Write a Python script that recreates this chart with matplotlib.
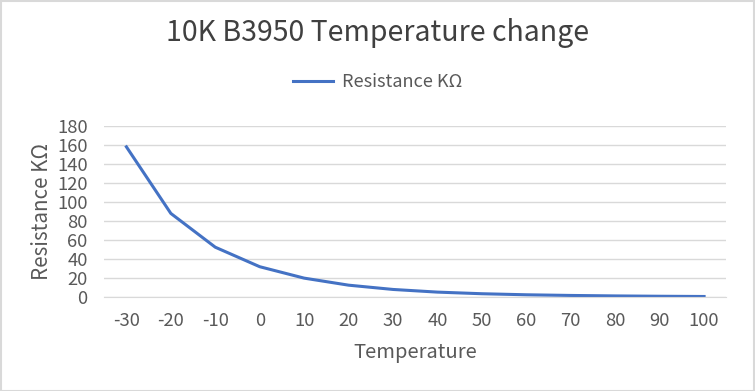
import matplotlib.pyplot as plt
import numpy as np

plt.rcParams['font.family'] = ['Noto Sans CJK SC', 'DejaVu Sans']

temps = ['-30', '-20', '-10', '0', '10', '20', '30', '40', '50', '60', '70', '80', '90', '100']
resistance = [158, 88, 52.5, 32, 20, 12.6, 8.1, 5.3, 3.6, 2.5, 1.8, 1.3, 0.95, 0.7]
y_ticks = [0, 20, 40, 60, 80, 100, 120, 140, 160, 180]

txt = '#595959'
fig = plt.figure(figsize=(7.55, 3.91), dpi=100)
fig.patches.append(plt.Rectangle((0.001, 0.001), 0.998, 0.997, transform=fig.transFigure,
                                 fill=False, edgecolor='#d9d9d9', linewidth=1.5))
ax = fig.add_axes([0.138, 0.240, 0.824, 0.438])

x = np.arange(len(temps))
line, = ax.plot(x, resistance, color='#4472c4', linewidth=2.2, label='Resistance KΩ')

ax.set_xlim(-0.5, len(temps) - 0.5)
ax.set_ylim(0, 180)
ax.set_yticks(y_ticks)
ax.set_xticks(x)
ax.set_xticklabels(temps)
ax.grid(axis='y', color='#d9d9d9', linewidth=1)
ax.set_axisbelow(True)
for s in ['top', 'right', 'left']:
    ax.spines[s].set_visible(False)
ax.spines['bottom'].set_color('#d9d9d9')
ax.tick_params(axis='both', length=0, labelsize=13.3, colors=txt)
ax.tick_params(axis='x', pad=11)
ax.tick_params(axis='y', pad=12)

ax.set_ylabel('Resistance KΩ', fontsize=14.8, color=txt, labelpad=3)
ax.set_xlabel('Temperature', fontsize=14.5, color=txt, labelpad=8)

fig.text(0.5, 0.915, '10K B3950 Temperature change', ha='center', va='center',
         fontsize=20.5, color='#404040')
fig.legend(handles=[line], loc='center', bbox_to_anchor=(0.5, 0.79), frameon=False,
           fontsize=13, labelcolor=txt, handlelength=2.2, handletextpad=0.5)

fig.savefig('out.png', dpi=100)
